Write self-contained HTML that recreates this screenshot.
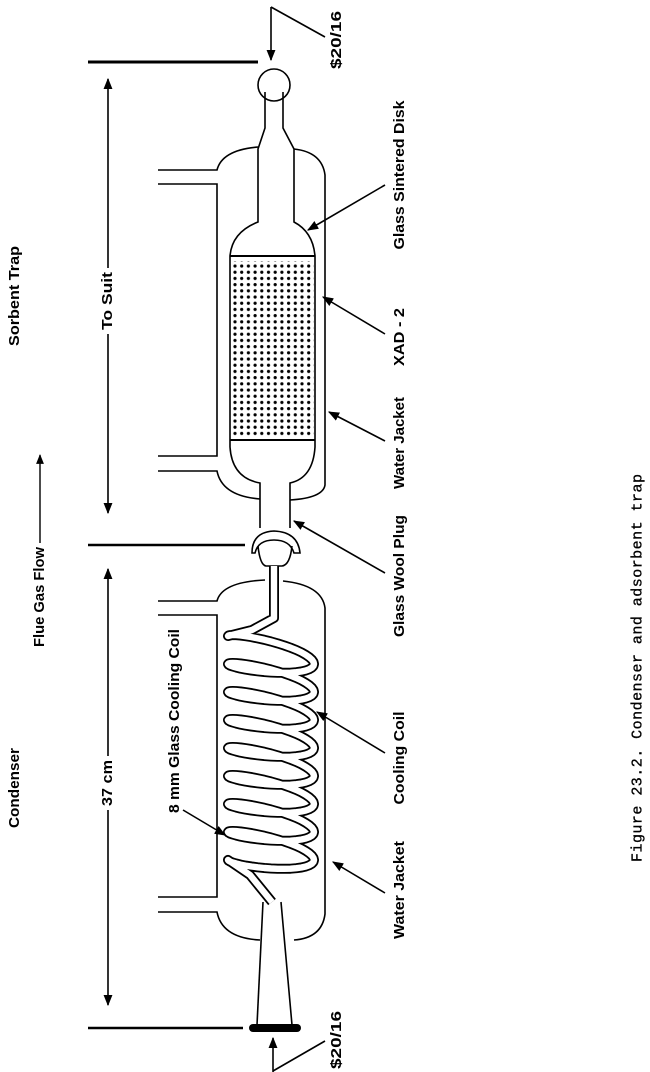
<!DOCTYPE html>
<html><head><meta charset="utf-8"><style>
html,body{margin:0;padding:0;background:#fff;}
svg{display:block;}
.l{font-family:"Liberation Sans",sans-serif;font-weight:bold;font-size:14.5px;fill:#000;}
.cap{font-family:"Liberation Mono",monospace;font-size:15px;fill:#000;stroke:#000;stroke-width:0.3;}
</style></head><body>
<svg id="fig" width="650" height="1072" viewBox="0 0 650 1072" xmlns="http://www.w3.org/2000/svg">
<defs>
<marker id="ah" viewBox="0 0 10 10" refX="9" refY="5" markerWidth="7" markerHeight="7" orient="auto-start-reverse"><path d="M0,1 L10,5 L0,9 Z" fill="#000"/></marker>
<pattern id="dots" x="232" y="263" width="6.7" height="6.2" patternUnits="userSpaceOnUse"><circle cx="3" cy="3" r="1.6" fill="#000"/></pattern>
</defs>
<g fill="none" stroke="#000" stroke-width="1.6">
<line x1="88" y1="62" x2="258" y2="62" stroke-width="3"/>
<line x1="271" y1="7" x2="271" y2="60" marker-end="url(#ah)"/>
<line x1="271" y1="7" x2="325" y2="37"/>
<circle cx="274" cy="85" r="16"/>
<path d="M265,92 L265,128 L258,149 L258,222 Q232,232 230,256 L230,447 Q232,478 260,483 L260,528"/>
<path d="M283,92 L283,128 L294,149 L294,222 Q313,232 315,256 L315,447 Q313,478 290,483 L290,528"/>
<line x1="230" y1="256" x2="315" y2="256" stroke-width="2"/>
<line x1="230" y1="440" x2="315" y2="440" stroke-width="2"/>
<rect x="232" y="261" width="82" height="176" fill="url(#dots)" stroke="none"/>
<path d="M158,170 L217,170 Q222,150 258,147"/>
<path d="M294,149 Q322,152 325,175 L325,485 Q323,498 290,500"/>
<path d="M158,471 L217,471 Q222,496 260,499"/>
<path d="M158,184 L217,184 L217,456 L158,456"/>
<line x1="88" y1="545" x2="245" y2="545" stroke-width="2.5"/>
<path d="M252,553 Q252,532 274,531 Q298,532 300,553 L294,553 Q290,540 274,540 Q258,540 255,553 Z" fill="#fff"/>
<path d="M258,546 Q260,565 266,566 L282,566 Q290,565 292,546"/>
<path d="M158,601 L217,601 Q222,582 265,580"/>
<path d="M283,581 Q322,585 325,608 L325,914 Q322,938 294,940"/>
<path d="M158,912 L217,912 Q222,938 260,940"/>
<path d="M158,615 L217,615 L217,897 L158,897"/>
<path id="coilOuter" stroke-width="10" stroke-linejoin="round"/>
<path id="coilInner" stroke="#fff" stroke-width="6.4" stroke-linejoin="round"/>
<line x1="263" y1="902" x2="257" y2="1025"/>
<line x1="281" y1="902" x2="292" y2="1025"/>
<line x1="253" y1="1028" x2="297" y2="1028" stroke-width="8" stroke-linecap="round"/>
<line x1="88" y1="1028" x2="243" y2="1028" stroke-width="2.5"/>
<line x1="273" y1="1072" x2="273" y2="1038" marker-end="url(#ah)"/>
<line x1="273" y1="1071" x2="325" y2="1041"/>
<line x1="108" y1="268" x2="108" y2="79" marker-end="url(#ah)"/>
<line x1="108" y1="334" x2="108" y2="513" marker-end="url(#ah)"/>
<line x1="108" y1="756" x2="108" y2="569" marker-end="url(#ah)"/>
<line x1="108" y1="810" x2="108" y2="1005" marker-end="url(#ah)"/>
<line x1="40" y1="543" x2="40" y2="455" marker-end="url(#ah)" stroke-width="1.4"/>
<line x1="385" y1="185" x2="308" y2="230" marker-end="url(#ah)"/>
<line x1="385" y1="334" x2="323" y2="297" marker-end="url(#ah)"/>
<line x1="385" y1="441" x2="329" y2="412" marker-end="url(#ah)"/>
<line x1="385" y1="573" x2="294" y2="521" marker-end="url(#ah)"/>
<line x1="385" y1="753" x2="317" y2="712" marker-end="url(#ah)"/>
<line x1="385" y1="893" x2="333" y2="862" marker-end="url(#ah)"/>
<line x1="183" y1="810" x2="225" y2="835" marker-end="url(#ah)"/>
</g>
<g>
<text class="l" transform="translate(337,40) rotate(-90)" text-anchor="middle" dominant-baseline="central" textLength="58" lengthAdjust="spacingAndGlyphs">$20/16</text>
<text class="l" transform="translate(337,1040) rotate(-90)" text-anchor="middle" dominant-baseline="central" textLength="58" lengthAdjust="spacingAndGlyphs">$20/16</text>
<text class="l" transform="translate(15,296) rotate(-90)" text-anchor="middle" dominant-baseline="central" textLength="100" lengthAdjust="spacingAndGlyphs">Sorbent Trap</text>
<text class="l" transform="translate(15,788) rotate(-90)" text-anchor="middle" dominant-baseline="central" textLength="80" lengthAdjust="spacingAndGlyphs">Condenser</text>
<text class="l" transform="translate(40,597) rotate(-90)" text-anchor="middle" dominant-baseline="central" textLength="100" lengthAdjust="spacingAndGlyphs">Flue Gas Flow</text>
<text class="l" transform="translate(108,301) rotate(-90)" text-anchor="middle" dominant-baseline="central" textLength="58" lengthAdjust="spacingAndGlyphs">To Suit</text>
<text class="l" transform="translate(108,783) rotate(-90)" text-anchor="middle" dominant-baseline="central" textLength="46" lengthAdjust="spacingAndGlyphs">37 cm</text>
<text class="l" transform="translate(175,721) rotate(-90)" text-anchor="middle" dominant-baseline="central" textLength="184" lengthAdjust="spacingAndGlyphs">8 mm Glass Cooling Coil</text>
<text class="l" transform="translate(400,175) rotate(-90)" text-anchor="middle" dominant-baseline="central" textLength="149" lengthAdjust="spacingAndGlyphs">Glass Sintered Disk</text>
<text class="l" transform="translate(400,337) rotate(-90)" text-anchor="middle" dominant-baseline="central" textLength="58" lengthAdjust="spacingAndGlyphs">XAD - 2</text>
<text class="l" transform="translate(400,443) rotate(-90)" text-anchor="middle" dominant-baseline="central" textLength="92" lengthAdjust="spacingAndGlyphs">Water Jacket</text>
<text class="l" transform="translate(400,576) rotate(-90)" text-anchor="middle" dominant-baseline="central" textLength="122" lengthAdjust="spacingAndGlyphs">Glass Wool Plug</text>
<text class="l" transform="translate(400,758) rotate(-90)" text-anchor="middle" dominant-baseline="central" textLength="93" lengthAdjust="spacingAndGlyphs">Cooling Coil</text>
<text class="l" transform="translate(400,890) rotate(-90)" text-anchor="middle" dominant-baseline="central" textLength="98" lengthAdjust="spacingAndGlyphs">Water Jacket</text>
<text class="cap" transform="translate(638,668) rotate(-90)" text-anchor="middle" dominant-baseline="central" textLength="388" lengthAdjust="spacing">Figure 23.2. Condenser and adsorbent trap</text>
</g>
</svg>
<script>
var coilTurns = 8;
var coilTop = 636;
var coilBottom = 860;
var cx = 271, A = 43, B = 8.5, S = 7;
var pts = ["M274,566", "L274,618", "L252,630"];
var N = coilTurns * 40;
for (var i = 0; i <= N; i++) {
  var t = Math.PI + (i / N) * coilTurns * 2 * Math.PI;
  var f = i / N;
  var x = cx + A * Math.cos(t);
  var y = coilTop + f * (coilBottom - coilTop) + B * Math.sin(t) + S * Math.cos(t) + S;
  pts.push("L" + x.toFixed(1) + "," + y.toFixed(1));
}
pts.push("L250,875", "L272,902");
var d = pts.join(" ");
document.getElementById("coilOuter").setAttribute("d", d);
document.getElementById("coilInner").setAttribute("d", d);
</script>
</body></html>
